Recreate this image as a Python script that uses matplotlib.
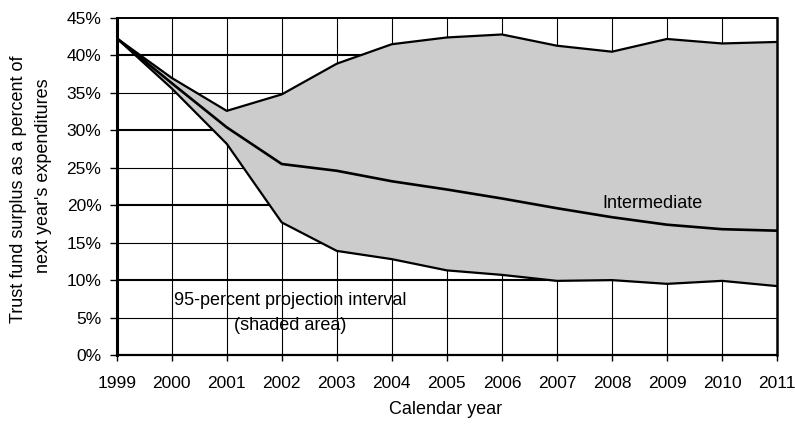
import matplotlib
matplotlib.use("Agg")
import matplotlib.pyplot as plt
from matplotlib.ticker import MultipleLocator, FuncFormatter

years = [1999, 2000, 2001, 2002, 2003, 2004, 2005, 2006, 2007, 2008, 2009, 2010, 2011]
upper = [42.3, 37.0, 32.6, 34.8, 38.9, 41.5, 42.4, 42.8, 41.3, 40.5, 42.2, 41.6, 41.8]
intermediate = [42.3, 36.3, 30.4, 25.5, 24.6, 23.2, 22.1, 20.9, 19.6, 18.4, 17.4, 16.8, 16.6]
lower = [42.3, 35.6, 28.2, 17.7, 13.9, 12.8, 11.3, 10.7, 9.9, 10.0, 9.5, 9.9, 9.2]

plt.rcParams['font.family'] = ['Liberation Sans', 'DejaVu Sans']
plt.rcParams['font.size'] = 13

fig = plt.figure(figsize=(7.95, 4.25), dpi=100)
ax = fig.add_axes([116.7/795, 1-355/425, (777-116.7)/795, (355-18)/425])

ax.set_xlim(1999, 2011)
ax.set_ylim(0, 45)

# grid
for yv in range(5, 45, 5):
    lw = 1.5 if yv % 10 == 0 else 0.8
    ax.axhline(yv, color='black', lw=lw, zorder=0.5)
for xv in years[1:-1]:
    ax.axvline(xv, color='black', lw=0.8, zorder=0.5)

ax.fill_between(years, lower, upper, color='#cccccc', lw=0, zorder=1)
ax.plot(years, upper, color='black', lw=1.6, zorder=2)
ax.plot(years, intermediate, color='black', lw=1.9, zorder=2)
ax.plot(years, lower, color='black', lw=1.6, zorder=2)

ax.set_xticks(years)
ax.set_xticklabels([str(y) for y in years])
ax.yaxis.set_major_locator(MultipleLocator(5))
ax.yaxis.set_major_formatter(FuncFormatter(lambda v, p: f"{int(round(v))}%"))
ax.tick_params(axis='x', length=4, width=1, pad=11, labelsize=12.5)
ax.tick_params(axis='y', length=5, width=1, pad=6, labelsize=12.5)

ax.spines['left'].set_linewidth(2.2)
ax.spines['bottom'].set_linewidth(1.6)
ax.spines['top'].set_linewidth(1.4)
ax.spines['right'].set_linewidth(1.8)
for s in ax.spines.values():
    s.set_zorder(3)

ax.text(2008.73, 20.2, "Intermediate", ha='center', va='center', zorder=4)
ax.text(2002.15, 7.34, "95-percent projection interval", ha='center', va='center', zorder=4)
ax.text(2002.15, 3.9, "(shaded area)", ha='center', va='center', zorder=4)

fig.text(18.5/795, 1-189/425, "Trust fund surplus as a percent of",
         rotation=90, ha='center', va='center')
fig.text(44/795, 1-176/425, "next year's expenditures",
         rotation=90, ha='center', va='center')
fig.text(446/795, 1-410/425, "Calendar year", ha='center', va='center')

fig.savefig("out.png", dpi=100)
